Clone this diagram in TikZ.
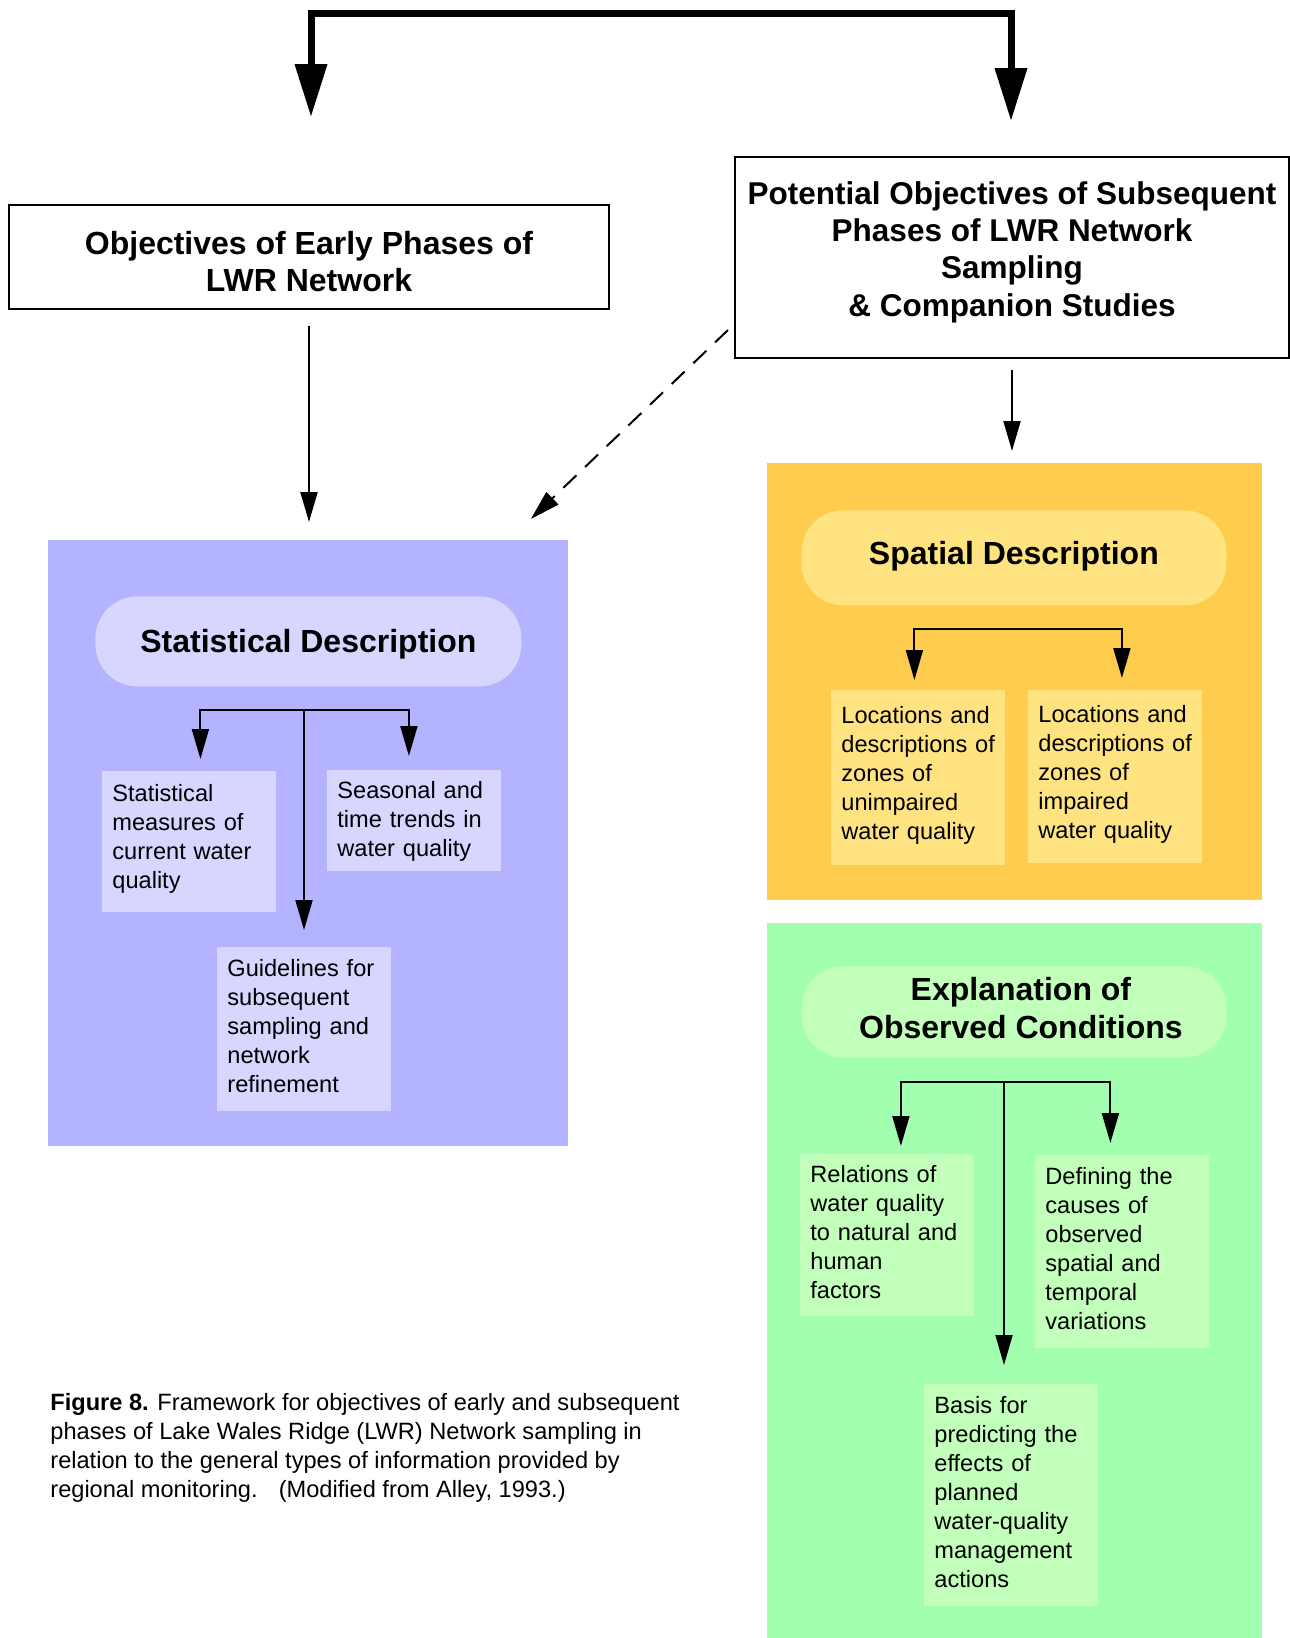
\documentclass[tikz,border=0pt]{standalone}
\usepackage{fontspec}
\setmainfont{Liberation Sans}
\usetikzlibrary{arrows.meta,calc}

\definecolor{statback}{RGB}{179,179,255}
\definecolor{statfront}{RGB}{214,214,255}
\definecolor{spatback}{RGB}{255,204,77}
\definecolor{spatfront}{RGB}{255,227,128}
\definecolor{explback}{RGB}{163,255,176}
\definecolor{explfront}{RGB}{194,255,186}

\begin{document}
\begin{tikzpicture}[
  x=0.5pt, y=-0.5pt,
  title/.style={rectangle, draw=black, line width=1pt, fill=white,
                anchor=north west, align=center, inner sep=0pt,
                font=\fontsize{16}{18.7}\selectfont\bfseries},
  panel/.style={rectangle, anchor=north west, inner sep=0pt},
  pill/.style={rectangle, rounded corners=21pt, anchor=north west,
               align=center, inner sep=0pt,
               font=\fontsize{16}{18.8}\selectfont\bfseries},
  infobox/.style={rectangle, anchor=north west, minimum width=87pt,
                  text width=77pt, inner xsep=5pt, inner ysep=0pt,
                  align=left, font=\fontsize{11.8}{14.5}\selectfont,
                  execute at end node={\endgraf\kern3pt}},
  arr/.style={-{Triangle[length=15pt,width=8.5pt]}, line width=1pt},
  bigarr/.style={-{Triangle[length=26.5pt,width=15.5pt]}, line width=3.5pt},
  dasharr/.style={arr, dash pattern=on 9pt off 6pt},
]
\useasboundingbox (0,0) rectangle (1290,1638);

\node[title, minimum width=300pt, minimum height=52pt] (early) at (8,204)
  {\rule{0pt}{15.9pt}Objectives of Early Phases of\\LWR Network};
\node[title, minimum width=277pt, minimum height=100.5pt,
      font=\fontsize{15.75}{18.6}\selectfont\bfseries] (subseq) at (734,156)
  {Potential Objectives of Subsequent\\Phases of LWR Network\\Sampling\\\& Companion Studies\rule[-8.6pt]{0pt}{0pt}};

\node[panel, fill=statback, minimum width=260pt, minimum height=303pt] (statpanel) at (48,540) {};
\node[panel, fill=spatback, minimum width=247.5pt, minimum height=218.5pt] (spatpanel) at (767,463) {};
\node[panel, fill=explback, minimum width=247.5pt, minimum height=357.5pt] (explpanel) at (767,923) {};

\node[pill, fill=statfront, minimum width=213pt, minimum height=45pt] (statpill) at (95,596)
  {\rule{0pt}{14pt}Statistical Description};
\node[pill, fill=spatfront, minimum width=212.5pt, minimum height=47.5pt] (spatpill) at (801,510)
  {Spatial Description\rule[-5.5pt]{0pt}{0pt}};
\node[pill, fill=explfront, minimum width=212.5pt, minimum height=45.5pt] (explpill) at (801,966)
  {\hspace*{7pt}Explanation of\\\hspace*{7pt}Observed Conditions\rule[-3.9pt]{0pt}{0pt}};

\node[infobox, fill=statfront, minimum height=70.5pt] (statmeas) at (102,771)
  {Statistical\\measures of\\current water\\quality};
\node[infobox, fill=statfront, minimum height=50.5pt] (seasonal) at (327,770)
  {\rule{0pt}{11.7pt}Seasonal and\\time trends in\\water quality};
\node[infobox, fill=statfront, minimum height=82pt] (guide) at (217,947)
  {Guidelines for\\subsequent\\sampling and\\network\\refinement};
\node[infobox, fill=spatfront, minimum height=87.5pt] (unimp) at (831,690)
  {Locations and\\descriptions of\\zones of\\unimpaired\\water quality};
\node[infobox, fill=spatfront, minimum height=86.5pt] (imp) at (1028,690)
  {Locations and\\descriptions of\\zones of\\impaired\\water quality};
\node[infobox, fill=explfront, minimum height=81pt] (relations) at (800,1154)
  {Relations of\\water quality\\to natural and\\human\\factors};
\node[infobox, fill=explfront, minimum height=96.5pt] (defining) at (1035,1155)
  {Defining the\\causes of\\observed\\spatial and\\temporal\\variations};
\node[infobox, fill=explfront, minimum height=111pt] (basis) at (924,1384)
  {Basis for\\predicting the\\effects of\\planned\\water-quality\\management\\actions};

\node[anchor=north west, align=left, inner sep=0pt,
      font=\fontsize{11.8}{14.5}\selectfont] (caption) at (50,1393)
  {\textbf{Figure 8.} Framework for objectives of early and subsequent\\
   phases of Lake Wales Ridge (LWR) Network sampling in\\
   relation to the general types of information provided by\\
   regional monitoring.\hspace{0.9em}(Modified from Alley, 1993.)};

\coordinate (topmid) at (661,13);
\coordinate (tipL) at (311,117);
\coordinate (tipR) at (1011,121);
\draw[bigarr] (topmid) -| (tipL);
\draw[bigarr] (topmid) -| (tipR);

\draw[arr, shorten <=8pt, shorten >=9pt] (early.south) -- (early.south |- statpanel.north);
\draw[arr, shorten <=5.5pt, shorten >=6pt] (subseq.south) -- (subseq.south |- spatpanel.north);
\draw[dasharr] ($(subseq.south west)+(-6,-29)$) -- ($(statpanel.north east)+(-38,-21)$);

\coordinate (statfork) at (304,710);
\draw[arr, shorten >=6pt] (statfork) -| ([xshift=5.5pt]statmeas.north);
\draw[arr, shorten >=7pt] (statfork) -| ([xshift=-2.75pt]seasonal.north);
\draw[arr, shorten >=8.5pt] (statfork) -- (statfork |- guide.north);

\coordinate (spatfork) at (1017,629);
\draw[arr, shorten >=5pt] (spatfork) -| ([xshift=-2pt]unimp.north);
\draw[arr, shorten >=6pt] (spatfork) -| ([xshift=3.25pt]imp.north);

\coordinate (explfork) at (1004,1082);
\draw[arr, shorten >=4pt] (explfork) -| ([xshift=6.75pt]relations.north);
\draw[arr, shorten >=6pt] (explfork) -| ([xshift=-6pt]defining.north);
\draw[arr, shorten >=9.5pt] (explfork) -- (explfork |- basis.north);

\end{tikzpicture}
\end{document}
